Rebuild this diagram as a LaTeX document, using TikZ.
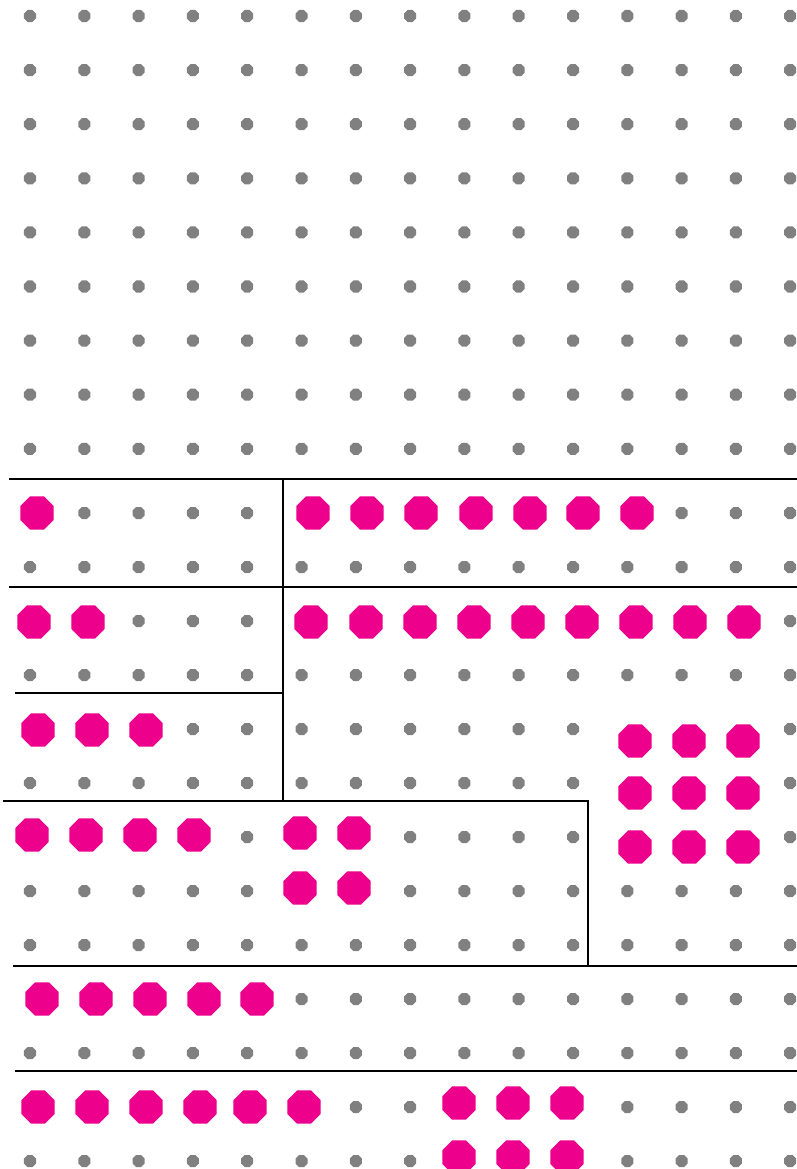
\documentclass[tikz,border=0pt]{standalone}
\usetikzlibrary{shapes.geometric}
\definecolor{hitpink}{RGB}{236,0,140}
\definecolor{dotgray}{RGB}{128,128,128}

\begin{document}
\begin{tikzpicture}[
x=0.02cm, y=-0.02cm,
pt/.style={regular polygon, regular polygon sides=8, fill=dotgray, inner sep=0pt, minimum size=0.26cm},
hit/.style={regular polygon, regular polygon sides=8, fill=hitpink, inner sep=0pt, minimum size=0.72cm},
sep/.style={line width=1.1pt} ]

\useasboundingbox (0,0) rectangle (797,1169);

% upper field
\foreach \c in {0,...,14}
  \foreach \r in {0,...,8}
    \node[pt] (u-\c-\r) at ({30+54.3*\c},{16+54.1*\r}) {};

% lower field, free cells only
\foreach \r/\cols in {0/{1,2,3,4,12,13,14}, 1/{0,...,14},
  2/{2,3,4,14}, 3/{0,...,14},
  4/{3,4,5,6,7,8,9,10,14}, 5/{0,1,2,3,4,5,6,7,8,9,10,14},
  6/{4,7,8,9,10,14}, 7/{0,1,2,3,4,7,8,9,10,11,12,13,14}, 8/{0,...,14},
  9/{5,...,14}, 10/{0,...,14},
  11/{6,7,11,12,13,14}, 12/{0,1,2,3,4,5,6,7,11,12,13,14}}
  \foreach \c in \cols
    \node[pt] (l-\c-\r) at ({30+54.3*\c},{513+54*\r}) {};

% hits
\foreach \x/\y [count=\i] in {37/513, 313/513, 367/513, 421/513, 476/513, 530/513, 583/513, 637/513,
  34/622, 88/622, 311/622, 366/622, 420/622, 474/622, 528/622, 582/622, 636/622, 690/622, 744/622,
  38/730, 92/730, 146/730,
  635/741, 689/741, 743/741, 635/793, 689/793, 743/793, 635/847, 689/847, 743/847,
  32/835, 86/835, 140/835, 194/835, 300/833, 354/833, 300/888, 354/888,
  42/999, 96/999, 150/999, 204/999, 257/999,
  38/1107, 92/1107, 146/1107, 200/1107, 250/1107, 304/1107,
  459/1103, 513/1103, 567/1103, 459/1157, 513/1157, 567/1157}
  \node[hit] (h\i) at (\x,\y) {};

% borders
\draw[sep] (9,479) -- (797,479);
\draw[sep] (283,479) -- (283,801);
\draw[sep] (9,587) -- (797,587);
\draw[sep] (15,693) -- (283,693);
\draw[sep] (3,801) -- (588,801) -- (588,966);
\draw[sep] (13,966) -- (797,966);
\draw[sep] (15,1071) -- (797,1071);

\end{tikzpicture}
\end{document}
